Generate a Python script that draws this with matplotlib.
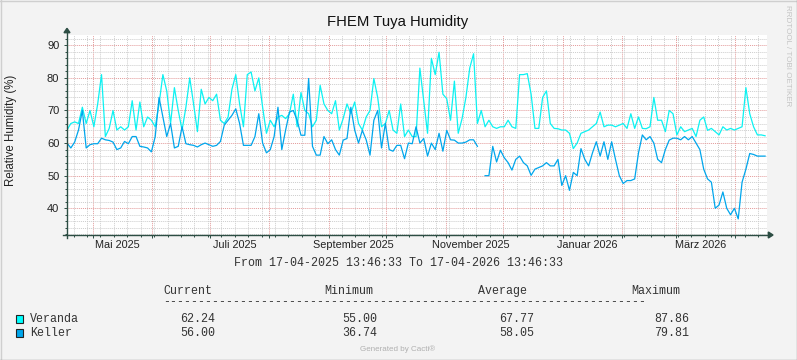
import numpy as np
import matplotlib
matplotlib.use('Agg')
import matplotlib.pyplot as plt
import matplotlib.dates as mdates
from matplotlib.ticker import MultipleLocator, NullFormatter
from matplotlib.patches import Rectangle, Polygon
from matplotlib.lines import Line2D

####INPUT DATA####
# one sample every 2 days, starting 17-04-2025 13:46:33
veranda = [64, 66, 66.5, 66, 71, 66, 70, 65, 72, 81,
           62, 64.5, 70, 64, 65, 64, 65, 73, 64, 72.6,
           65, 68, 67, 65, 72, 81, 76, 66, 77, 70,
           64, 71, 80, 72, 63.5, 76.5, 72, 74, 73, 75,
           67, 66, 68, 76.5, 81, 72, 65, 81, 81.8, 76,
           80, 71, 63, 67, 65, 68, 68.5, 67.5, 69, 75,
           65, 75.5, 70, 69, 65, 67, 77.7, 72, 70, 69,
           73, 64, 67.5, 72, 69, 72.6, 66, 64, 68, 70,
           79.8, 74, 65, 66, 70, 64, 63, 72, 62, 64,
           62, 62, 83, 73, 63, 86, 81, 87.86, 75, 73.6,
           67, 79, 63, 67.5, 74, 83, 87.4, 66, 70, 65,
           67, 65, 64.5, 65, 65, 67, 65, 64.5, 81, 81,
           81.3, 75, 64.5, 64.5, 74, 76, 66, 64.5, 64.4, 64,
           64, 63, 58.3, 60, 63, 63.5, 64, 65, 66, 69.5,
           65, 65.5, 65.5, 65, 65.5, 66, 64.5, 69, 64.5, 68,
           64.5, 64.4, 65, 74, 67, 67, 63.5, 70, 69, 62.5,
           65, 63.5, 64, 64.5, 62, 67, 68, 63.9, 64.5, 63.5,
           62.5, 65, 64, 64.5, 64, 64.5, 65, 77, 69, 65,
           62.5, 62.5, 62.24]
keller = [60, 58.5, 60.3, 64, 70, 58.5, 59.5, 59.8, 59.8, 61.5,
          61, 60.8, 60.3, 58, 58.5, 60.5, 59.8, 62, 62, 59,
          58.8, 58.5, 57.3, 62, 74, 68, 62, 66, 58.5, 59,
          65, 59.8, 59.5, 59.3, 58.8, 59.5, 60, 59.5, 59, 59.3,
          60.5, 65.5, 67, 68.5, 70.5, 66, 59.3, 59.3, 59.3, 62,
          69, 60, 57, 58, 62, 71, 58, 64, 69.5, 70,
          67, 62.4, 62.4, 79.81, 59, 56.3, 56.3, 62, 59.8, 61,
          58, 56.3, 60.9, 61.4, 71, 64, 60, 63.9, 61, 56.3,
          67, 70, 58.5, 66, 58, 57.5, 59.3, 59.3, 55.2, 60,
          59.8, 65, 60, 61.4, 56, 60, 58, 63, 57.5, 63.9,
          61, 60.9, 60, 60, 60.3, 61, 61, 59, None, 50,
          50, 59, 54.2, 57.8, 55.5, 54, 51.7, 55, 56, 54,
          53, 50.1, 52, 52.5, 53, 54, 53, 53, 55, 47,
          50, 45.5, 51, 50, 58.3, 55, 53, 57, 60.4, 56,
          60.4, 55, 60.4, 55, 50, 47.6, 48.5, 48.5, 49, 57,
          62.5, 61, 62, 60, 55, 54, 58, 60.9, 61.5, 61.5,
          61, 62, 61, 62, 60, 58, 52, 49, 48, 40,
          41, 45, 40, 38, 40, 36.74, 48, 52, 56.8, 56.5,
          56, 56, 56]

series_names = ['Veranda', 'Keller']
current = ['62.24', '56.00']
minimum = ['55.00', '36.74']
average = ['67.77', '58.05']
maximum = ['87.86', '79.81']

label_months = ['2025-05-01', '2025-07-01', '2025-09-01', '2025-11-01', '2026-01-01', '2026-03-01']
label_texts = ['Mai 2025', 'Juli 2025', 'September 2025', 'November 2025', 'Januar 2026', 'März 2026']

t_start = np.datetime64('2025-04-17T13:46:33')
t_end = np.datetime64('2026-04-17T13:46:33')

######################################################

W, H = 797, 360
backColor = '#F3F3F3'
axisColor = '#2C4D43'
colors = ['#0CF2F2', '#00A6EC']
boxColors = ['#00FFFF', '#00A6EC']
mono = 'Liberation Mono'

plt.rcParams['font.family'] = ['Liberation Sans', 'DejaVu Sans']

fig = plt.figure(figsize=(W / 100, H / 100), dpi=100, facecolor=backColor)
ax = fig.add_axes([67 / W, 1 - 235 / H, 700 / W, 200 / H])
ax.set_facecolor('white')

times = t_start + np.arange(len(veranda)) * np.timedelta64(2, 'D')
v = np.array(veranda, dtype=float)
k = np.array([np.nan if x is None else x for x in keller], dtype=float)

ax.plot(times, v, color=colors[0], lw=0.9)
ax.plot(times, k, color=colors[1], lw=0.9)

ax.set_xlim(t_start, t_end)
ax.set_ylim(31.8, 93.15)

# grid: months / weeks, 10 / 2 units
ax.xaxis.set_major_locator(mdates.MonthLocator())
ax.xaxis.set_minor_locator(mdates.WeekdayLocator(byweekday=mdates.MO))
ax.xaxis.set_major_formatter(NullFormatter())
ax.yaxis.set_major_locator(MultipleLocator(10))
ax.yaxis.set_minor_locator(MultipleLocator(2))
ax.grid(which='minor', color='#CDCDCD', linestyle=(0, (1, 1)), lw=0.7)
ax.grid(which='major', color='#E39A9A', linestyle=(0, (1, 1)), lw=0.7)
ax.set_axisbelow(True)

ax.tick_params(which='major', direction='out', length=2.5, width=0.7, color=axisColor,
               labelsize=8, pad=3, labelcolor='#222222')
ax.tick_params(which='minor', direction='out', length=1.5, width=0.7, color=axisColor)
for s in ax.spines.values():
    s.set_visible(False)

# axis lines with arrows
ax.add_line(Line2D([0, 0], [-0.015, 1.012], transform=ax.transAxes, color=axisColor, lw=1, clip_on=False))
ax.add_line(Line2D([-4 / 700, 1.002], [0, 0], transform=ax.transAxes, color=axisColor, lw=1, clip_on=False))
ax.add_patch(Polygon([(-3 / 700, 1.0115), (3 / 700, 1.0115), (0, 1.0335)], closed=True,
                     transform=ax.transAxes, color=axisColor, clip_on=False))
ax.add_patch(Polygon([(1.0019, -3 / 200), (1.0019, 3 / 200), (1.0086, 0)], closed=True,
                     transform=ax.transAxes, color=axisColor, clip_on=False))

# month labels (every 2nd month)
for m, txt in zip(label_months, label_texts):
    xpos = mdates.date2num(np.datetime64(m) + np.timedelta64(13, 'D'))
    ax.text(xpos, -0.05, txt, transform=ax.get_xaxis_transform(), ha='center', va='center',
            fontsize=7.8, color='#222222')

# titles
fig.text(398 / W, 1 - 22 / H, 'FHEM Tuya Humidity', ha='center', va='center', fontsize=10.7, color='#111111')
fig.text(11 / W, 1 - 130 / H, 'Relative Humidity (%)', rotation=90, ha='center', va='center',
         fontsize=8.3, color='#222222')
fig.text(787 / W, 1 - 56 / H, 'RRDTOOL / TOBI OETIKER', rotation=-90, ha='center', va='center',
         fontsize=5.8, color='#C4C4C4')

# legend block
def ftext(x, y, s, **kw):
    fig.text(x / W, 1 - y / H, s, va='center', family=mono, fontsize=8.4, color='#333333', **kw)

ftext(398, 263.3, 'From 17-04-2025 13:46:33 To 17-04-2026 13:46:33', ha='center')
ftext(163.3, 290.7, 'Current', ha='left')
ftext(324, 290.7, 'Minimum', ha='left')
ftext(478.3, 290.7, 'Average', ha='left')
ftext(631.7, 290.7, 'Maximum', ha='left')
ftext(163.3, 301.7, '-' * 69, ha='left')

rows_y = [319, 332.7]
for n in range(len(series_names)):
    y = rows_y[n]
    fig.add_artist(Rectangle((15.7 / W, 1 - (y + 4.2) / H), 7.6 / W, 8.3 / H, transform=fig.transFigure,
                             fc=boxColors[n], ec='#222222', lw=0.8))
    ftext(30, y, series_names[n], ha='left')
    ftext(180, y, current[n], ha='left')
    ftext(342.7, y, minimum[n], ha='left')
    ftext(499, y, average[n], ha='left')
    ftext(654, y, maximum[n], ha='left')

fig.text(398 / W, 1 - 349.5 / H, 'Generated by Cacti®', ha='center', va='center', fontsize=5.8, color='#B0B0B0')

# frame
fig.add_artist(Line2D([0.5 / W, 0.5 / W], [0, 1], transform=fig.transFigure, color='#CFCFCF', lw=1))
fig.add_artist(Line2D([0, 1], [1 - 0.5 / H, 1 - 0.5 / H], transform=fig.transFigure, color='#CFCFCF', lw=1))
fig.add_artist(Line2D([1 - 0.5 / W, 1 - 0.5 / W], [0, 1], transform=fig.transFigure, color='#9E9E9E', lw=1))
fig.add_artist(Line2D([0, 1], [0.5 / H, 0.5 / H], transform=fig.transFigure, color='#9E9E9E', lw=1))

fig.savefig('out.png', dpi=100, facecolor=backColor)
